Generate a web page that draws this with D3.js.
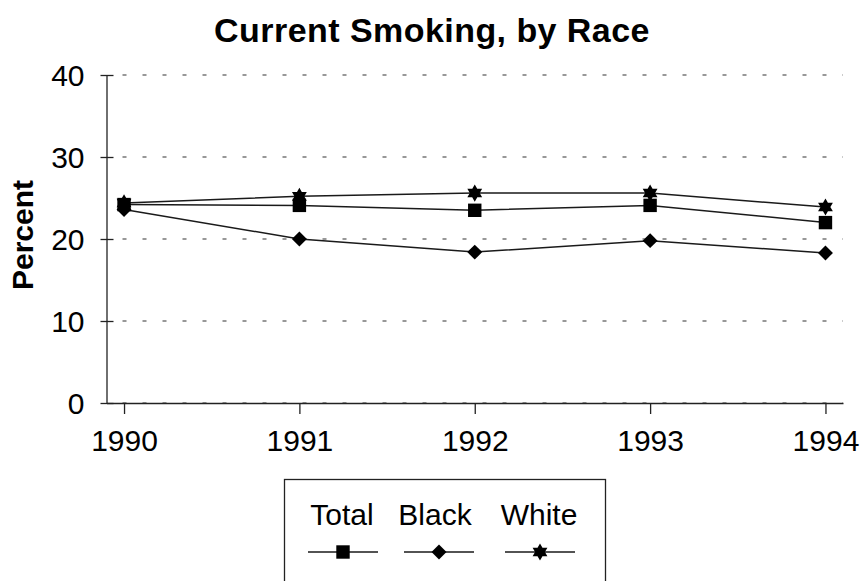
<!DOCTYPE html>
<html>
<head>
<meta charset="utf-8">
<script src="https://cdn.jsdelivr.net/npm/d3@7"></script>
<style>
  html, body { margin: 0; padding: 0; background: #fff; }
  svg { display: block; font-family: "Liberation Sans", Arial, sans-serif; }
</style>
</head>
<body>
<svg id="chart" width="860" height="581"></svg>
<script>
// Current smoking prevalence (%) by race, 1990-1994
const years = [1990, 1991, 1992, 1993, 1994];
const totalValues = [24.2, 24.1, 23.5, 24.1, 22.0];
const blackValues = [23.6, 20.0, 18.4, 19.8, 18.3];
const whiteValues = [24.4, 25.2, 25.6, 25.6, 23.9];
const yTicks = [0, 10, 20, 30, 40];
const seriesNames = ["Total", "Black", "White"];

const svg = d3.select("#chart");
const plot = { left: 106.5, right: 843, top: 75, bottom: 403 };

const x = d3.scaleLinear().domain([1989.9, 1994.1]).range([plot.left, plot.right]);
const y = d3.scaleLinear().domain([0, 40]).range([plot.bottom, plot.top]);

// Six-pointed star marker built from two overlapping triangles
const hexagram = {
  draw(ctx, size) {
    const r = Math.sqrt(size) * 0.62;
    for (let t = 0; t < 2; t++) {
      for (let i = 0; i < 3; i++) {
        const a = -Math.PI / 2 + t * Math.PI + i * 2 * Math.PI / 3;
        const px = r * Math.cos(a), py = r * Math.sin(a);
        if (i === 0) ctx.moveTo(px, py); else ctx.lineTo(px, py);
      }
      ctx.closePath();
    }
  }
};

// Square rotated by 45 degrees (equal width and height)
const squareDiamond = {
  draw(ctx, size) {
    const r = Math.sqrt(size / 2);
    ctx.moveTo(0, -r);
    ctx.lineTo(r, 0);
    ctx.lineTo(0, r);
    ctx.lineTo(-r, 0);
    ctx.closePath();
  }
};

const series = [
  { name: seriesNames[0], values: totalValues, symbol: d3.symbolSquare, size: 180 },
  { name: seriesNames[1], values: blackValues, symbol: squareDiamond, size: 112 },
  { name: seriesNames[2], values: whiteValues, symbol: hexagram, size: 190 }
];

// Title
svg.append("text")
  .attr("x", 432).attr("y", 42)
  .attr("text-anchor", "middle")
  .attr("font-size", 34).attr("font-weight", "bold")
  .attr("letter-spacing", 0.45)
  .text("Current Smoking, by Race");

// Y axis title
svg.append("text")
  .attr("transform", "translate(33,235) rotate(-90)")
  .attr("text-anchor", "middle")
  .attr("font-size", 30).attr("font-weight", "bold")
  .text("Percent");

// Dotted horizontal gridlines
svg.append("g")
  .selectAll("line")
  .data(yTicks)
  .join("line")
  .attr("x1", plot.left).attr("x2", plot.right)
  .attr("y1", d => y(d)).attr("y2", d => y(d))
  .attr("stroke", "#333").attr("stroke-width", 1.2)
  .attr("stroke-dasharray", "4,16")
  .attr("stroke-dashoffset", -16);

// Y axis with ticks crossing the axis line
const yAxis = svg.append("g")
  .attr("transform", `translate(${plot.left},0)`)
  .call(d3.axisLeft(y).tickValues(yTicks).tickSize(6).tickPadding(16).tickSizeOuter(0));
yAxis.select(".domain").attr("stroke", "#222").attr("stroke-width", 1.3);
yAxis.selectAll(".tick line").attr("x2", 7).attr("x1", -6).attr("stroke", "#222").attr("stroke-width", 1.3);
yAxis.selectAll(".tick text").attr("font-size", 30).attr("fill", "#000").attr("dy", "0.36em")
  .attr("font-family", "Liberation Sans, Arial, sans-serif");

// X axis
const xAxis = svg.append("g")
  .attr("transform", `translate(0,${plot.bottom})`)
  .call(d3.axisBottom(x).tickValues(years).tickFormat(d3.format("d"))
    .tickSize(11).tickPadding(16).tickSizeOuter(0));
xAxis.select(".domain").attr("stroke", "#222").attr("stroke-width", 1.3);
xAxis.selectAll(".tick line").attr("stroke", "#222").attr("stroke-width", 1.3);
xAxis.selectAll(".tick text").attr("font-size", 30).attr("fill", "#000").attr("dy", "0.71em")
  .attr("font-family", "Liberation Sans, Arial, sans-serif");

// Series lines and markers
const line = d3.line().x((d, i) => x(years[i])).y(d => y(d));
series.forEach(s => {
  svg.append("path")
    .attr("d", line(s.values))
    .attr("fill", "none").attr("stroke", "#1a1a1a").attr("stroke-width", 1.5);
});
series.forEach(s => {
  svg.append("g")
    .selectAll("path")
    .data(s.values)
    .join("path")
    .attr("transform", (d, i) => `translate(${x(years[i])},${y(d)})`)
    .attr("d", d3.symbol(s.symbol, s.size))
    .attr("fill", "#000");
});

// Legend
const legend = svg.append("g");
legend.append("rect")
  .attr("x", 284.5).attr("y", 479.5)
  .attr("width", 321).attr("height", 120)
  .attr("fill", "#fff").attr("stroke", "#222").attr("stroke-width", 1.3);

const legendTextX = { Total: 342, Black: 435, White: 539 };
const legendSymX = { Total: 343, Black: 439, White: 540 };
series.forEach(s => {
  const g = legend.append("g");
  g.append("text")
    .attr("x", legendTextX[s.name]).attr("y", 525)
    .attr("text-anchor", "middle").attr("font-size", 30)
    .text(s.name);
  const cx = legendSymX[s.name];
  g.append("line")
    .attr("x1", cx - 35).attr("x2", cx + 35)
    .attr("y1", 552).attr("y2", 552)
    .attr("stroke", "#1a1a1a").attr("stroke-width", 1.5);
  g.append("path")
    .attr("transform", `translate(${cx},552)`)
    .attr("d", d3.symbol(s.symbol, s.size))
    .attr("fill", "#000");
});
</script>
</body>
</html>
